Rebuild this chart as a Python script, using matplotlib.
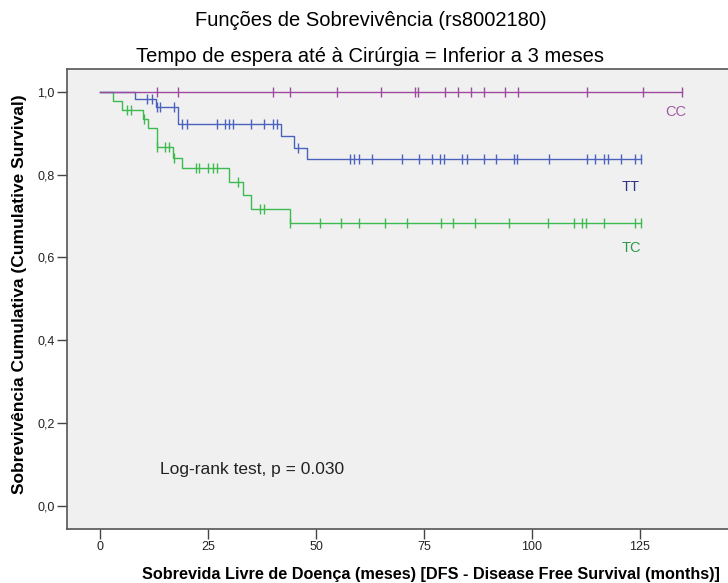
import numpy as np
import matplotlib
matplotlib.use("Agg")
import matplotlib.pyplot as plt

plt.rcParams['font.family'] = ['Liberation Sans', 'DejaVu Sans']

# ---- data ----
groups = ["CC", "TT", "TC"]

cc_event_times = []
cc_levels = []
cc_censor = [13.1, 18.1, 40.0, 44.0, 54.9, 65.0, 72.9, 73.7, 79.9, 82.8, 85.8,
             88.8, 93.8, 96.8, 112.8, 125.8, 134.8]

tt_event_times = [8.1, 12.9, 18.1, 41.9, 45.0, 48.0]
tt_levels = [0.982, 0.963, 0.922, 0.894, 0.865, 0.837]
tt_censor = [10.9, 12.0, 13.1, 14.0, 17.1, 18.9, 20.1, 27.0, 28.9, 29.9, 30.9,
             35.0, 38.0, 40.1, 41.0, 45.9, 57.9, 58.9, 59.9, 63.0, 70.0, 73.9,
             76.9, 78.8, 79.7, 83.9, 84.9, 88.8, 91.8, 95.8, 96.6, 103.9, 112.8,
             114.7, 116.7, 117.7, 120.6, 123.8, 125.2]

tc_event_times = [2.9, 5.2, 10.0, 11.0, 13.1, 17.0, 19.1, 29.9, 33.0, 35.0, 44.0]
tc_levels = [0.978, 0.957, 0.934, 0.912, 0.867, 0.841, 0.816, 0.783, 0.751,
             0.717, 0.682]
tc_censor = [6.2, 7.1, 10.3, 13.2, 15.0, 16.0, 17.1, 22.2, 23.0, 25.1, 26.1,
             27.0, 32.0, 37.0, 38.0, 44.1, 50.9, 55.9, 59.9, 65.9, 71.0, 78.9,
             81.8, 86.8, 94.8, 103.8, 109.7, 111.7, 112.6, 116.7, 123.8, 125.2]

x_ticks = [0, 25, 50, 75, 100, 125]
y_ticks = [0.0, 0.2, 0.4, 0.6, 0.8, 1.0]
y_ticklabels = ["0,0", "0,2", "0,4", "0,6", "0,8", "1,0"]

line_colors = {"CC": "#9E4A9E", "TT": "#4A62BE", "TC": "#3DBB4E"}
label_colors = {"CC": "#A25AA2", "TT": "#2E3180", "TC": "#2A9A4A"}
label_pos = {"CC": (133.3, 0.952), "TT": (122.9, 0.770), "TC": (123.1, 0.623)}

data = {
    "CC": (cc_event_times, cc_levels, cc_censor),
    "TT": (tt_event_times, tt_levels, tt_censor),
    "TC": (tc_event_times, tc_levels, tc_censor),
}

fig = plt.figure(figsize=(7.28, 5.83), dpi=100)
ax = fig.add_axes([67 / 728, 54 / 583, 1 - 67 / 728, 460 / 583])
ax.set_facecolor("#F0F0F0")

for g in ["TC", "TT", "CC"]:
    ev, lv, cen = data[g]
    end = max(cen)
    xs = np.array([0.0] + list(ev) + [end])
    ys = np.array([1.0] + list(lv) + [lv[-1] if lv else 1.0])
    ax.step(xs, ys, where="post", color=line_colors[g], lw=1.0, zorder=3)
    cen = np.array(cen)
    idx = np.searchsorted(np.array(ev), cen, side="right")
    lvl_all = np.array([1.0] + list(lv))
    cy = lvl_all[idx]
    ax.plot(cen, cy, linestyle="none", marker="|", markersize=7,
            markeredgewidth=1.0, color=line_colors[g], zorder=4)
    lx, ly = label_pos[g]
    ax.text(lx, ly, g, color=label_colors[g], fontsize=10.5,
            ha="center", va="center")

ax.text(13.9, 0.087, "Log-rank test, p = 0.030", fontsize=12.5,
        color="#222222", ha="left", va="center")

ax.set_xlim(-7.64, 145.4)
ax.set_ylim(-0.0568, 1.0556)
ax.set_xticks(x_ticks)
ax.set_xticklabels([str(t) for t in x_ticks], fontsize=9)
ax.set_yticks(y_ticks)
ax.set_yticklabels(y_ticklabels, fontsize=9)
ax.tick_params(direction="out", length=7, width=1, color="#444444",
               labelcolor="#222222", pad=2)
for side in ["left", "bottom", "top"]:
    ax.spines[side].set_color("#555555")
    ax.spines[side].set_linewidth(1.2)
ax.spines["right"].set_visible(False)

fig.text(431 / 728, 1 - 575 / 583,
         "Sobrevida Livre de Doença (meses) [DFS - Disease Free Survival (months)]",
         ha="center", va="center", fontsize=11.7, fontweight="bold")
fig.text(20 / 728, 1 - 294 / 583,
         "Sobrevivência Cumulativa (Cumulative Survival)",
         ha="center", va="center", rotation=90, fontsize=12.5, fontweight="bold")

fig.text(371 / 728, 1 - 20 / 583, "Funções de Sobrevivência (rs8002180)",
         ha="center", va="center", fontsize=14.5)
fig.text(370 / 728, 1 - 57 / 583, "Tempo de espera até à Cirúrgia = Inferior a 3 meses",
         ha="center", va="center", fontsize=14.5)

fig.savefig("out.png", dpi=100)
